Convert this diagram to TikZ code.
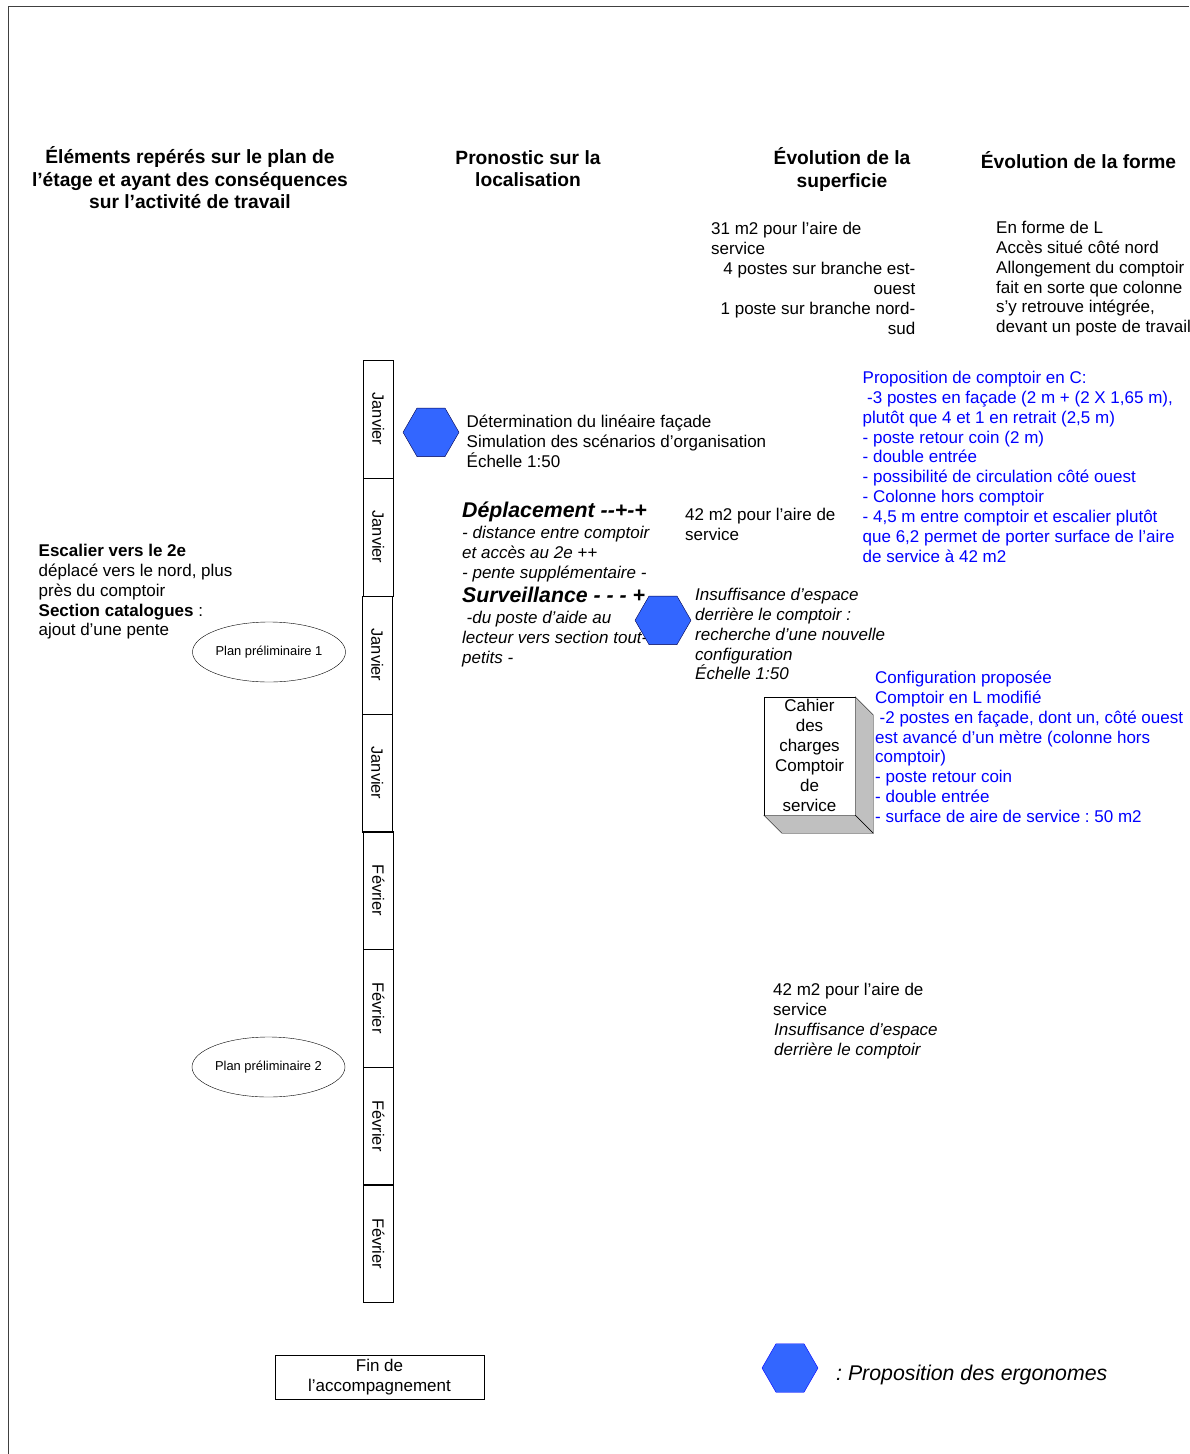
\documentclass[tikz,border=0pt]{standalone}
\usepackage{fontspec}
\setmainfont{Liberation Sans}
\usetikzlibrary{calc,shapes.geometric}
\definecolor{hexblue}{RGB}{51,102,255}
\definecolor{boxgray}{RGB}{192,192,192}
\newcommand{\fs}[2]{\fontsize{#1}{#2}\selectfont}
\frenchspacing

\begin{document}
\frenchspacing
\begin{tikzpicture}[x=1pt,y=-1pt,
    headstyle/.style={align=center,inner sep=0pt,anchor=north,font=\fs{19.2}{22.6}\bfseries},
    textstyle/.style={align=left,inner sep=0pt,anchor=north west,font=\fs{17}{19.95}},
    notestyle/.style={textstyle,font=\fs{17}{19.95}\itshape},
    critstyle/.style={textstyle,font=\fs{21.3}{24}\bfseries\itshape},
    bluestyle/.style={textstyle,text=blue},
    monthstyle/.style={draw=black,rotate=-90,minimum width=118pt,minimum height=30pt,inner sep=0pt,font=\fs{16.4}{18}},
    hexstyle/.style={regular polygon,regular polygon sides=6,draw=black!70!blue,fill=hexblue,minimum size=56pt,inner sep=0pt},
    planstyle/.style={ellipse,draw=black,minimum width=153pt,minimum height=60pt,inner sep=0pt,font=\fs{12.9}{15}}]
    \useasboundingbox (0,0) rectangle (1189,1454);
    \draw[black!75,line width=0.8pt] (8.8,1454) -- (8.8,6.8) -- (1189,6.8);
    % column titles
    \node[headstyle] (headplan) at (190,146.4) {\strut Éléments repérés sur le plan de\\l’étage et ayant des conséquences\\sur l’activité de travail};
    \node[headstyle] (headloc) at (528,148) {\strut Pronostic sur la\\localisation};
    \node[headstyle] (headsup) at (842,147.4) {\strut Évolution de la\\superficie};
    \node[headstyle] (headform) at (1078.5,151) {\strut Évolution de la forme};
    % months
    \foreach \x/\y/\m [count=\i] in {378/419/Janvier,378/537/Janvier,377/655/Janvier,377/773/Janvier,378/890.5/Février,378/1008/Février,378/1126/Février,378/1243.5/Février}
        \node[monthstyle] (month\i) at (\x,\y) {\raisebox{0.8pt}{\m}};
    \node[planstyle] (plan1) at (269,652) {\raisebox{-2pt}{Plan préliminaire 1}};
    \node[planstyle] (plan2) at (268.5,1067) {\raisebox{-2pt}{Plan préliminaire 2}};
    \node[draw=black,minimum width=209pt,minimum height=44pt,inner sep=0pt,align=center,font=\fs{17}{20}] (fin) at (379.5,1377) {\raisebox{-1pt}{Fin de}\\\raisebox{-1pt}{l’accompagnement}};
    % left column
    \node[textstyle] (escalier) at (38.5,542) {\strut\textbf{Escalier vers le 2e}\\déplacé vers le nord, plus\\près du comptoir\\\textbf{Section catalogues} :\\ajout d’une pente};
    % middle column
    \node[textstyle] (linear) at (466.5,413.5) {\strut Détermination du linéaire façade\\Simulation des scénarios d’organisation\\Échelle 1:50};
    \node[critstyle] (depl) at (462,500) {\strut Déplacement -{}-+-+};
    \node[notestyle] (depltext) at (462,524) {\strut - distance entre comptoir\\et accès au 2e ++\\- pente supplémentaire -};
    \node[critstyle] (surv) at (462,585) {\strut Surveillance - - - +};
    \node[notestyle] (survtext) at (462,609) {\strut\hspace*{4.5pt}-du poste d’aide au\\lecteur vers section tout-\\petits -};
    \node[hexstyle] (hexa) at (431,432.3) {};
    \node[hexstyle] (hexb) at (663,620.3) {};
    % surface column
    \node[textstyle] (surfa) at (711,220) {\strut 31 m2 pour l’aire de\\service};
    \node[textstyle,align=right,anchor=north east] (surfb) at (915.5,260) {\strut 4 postes sur branche est-\\ouest\\1 poste sur branche nord-\\sud};
    \node[textstyle] (surfc) at (685,506) {\strut 42 m2 pour l’aire de\\service};
    \node[notestyle] (insuf) at (695,586) {\strut Insuffisance d’espace\\derrière le comptoir :\\recherche d’une nouvelle\\configuration\\Échelle 1:50};
    \node[textstyle] (surfd) at (773,981) {\strut 42 m2 pour l’aire de\\service};
    \node[notestyle] (insufb) at (774,1021) {\strut Insuffisance d’espace\\derrière le comptoir};
    % form column
    \node[textstyle] (forme) at (996,219) {\strut En forme de L\\Accès situé côté nord\\Allongement du comptoir\\fait en sorte que colonne\\s’y retrouve intégrée,\\devant un poste de travail};
    % proposals
    \node[bluestyle] (propc) at (862.5,369) {\strut Proposition de comptoir en C:\\\hspace*{4.5pt}-3 postes en façade (2 m + (2 X 1,65 m),\\plutôt que 4 et 1 en retrait (2,5 m)\\- poste retour coin (2 m)\\- double entrée\\- possibilité de circulation côté ouest\\- Colonne hors comptoir\\- 4,5 m entre comptoir et escalier plutôt\\que 6,2 permet de porter surface de l’aire\\de service à 42 m2};
    \node[bluestyle] (propl) at (875,669) {\strut Configuration proposée\\Comptoir en L modifié\\\hspace*{4.5pt}-2 postes en façade, dont un, côté ouest\\est avancé d’un mètre (colonne hors\\comptoir)\\- poste retour coin\\- double entrée\\- surface de aire de service : 50 m2};
    % cahier des charges box
    \node[draw=black,minimum width=91pt,minimum height=118pt,inner sep=0pt,align=center,font=\fs{17}{20}] (cahier) at (809.5,756) {\raisebox{1pt}{Cahier}\\\raisebox{1pt}{des}\\\raisebox{1pt}{charges}\\\raisebox{1pt}{Comptoir}\\\raisebox{1pt}{de}\\\raisebox{1pt}{service}};
    \draw[fill=boxgray] (cahier.north east) -- ($(cahier.north east)+(18,18)$) -- ($(cahier.south east)+(18,18)$) -- (cahier.south east) -- cycle;
    \draw[fill=boxgray] (cahier.south west) -- ($(cahier.south west)+(18,18)$) -- ($(cahier.south east)+(18,18)$) -- (cahier.south east) -- cycle;
    % legend
    \node[hexstyle,draw=blue] (hexc) at (790,1368) {};
    \node[notestyle,font=\fs{21.3}{25}\itshape,anchor=west] (legend) at (836,1375) {: Proposition des ergonomes};
\end{tikzpicture}
\end{document}
